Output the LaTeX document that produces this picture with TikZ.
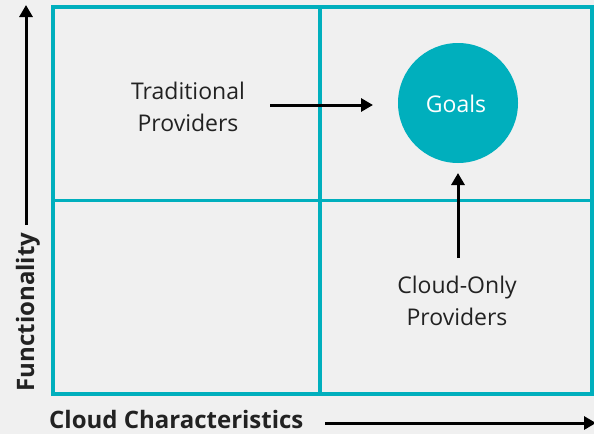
\documentclass[tikz,border=0pt]{standalone}
\usepackage{fontspec}
\setmainfont{Open Sans}
\usetikzlibrary{arrows.meta}
\definecolor{teal1}{HTML}{00AFBD}
\definecolor{bgc}{HTML}{F0F0F0}
\definecolor{txt}{HTML}{222222}
\tikzset{
  grid/.style={draw=teal1,line width=3.2pt},
  arr/.style={draw=black,line width=3pt,-{Triangle[length=12pt,width=13pt]}},
  lbl/.style={align=center,text=txt,font=\fontsize{23}{31.5}\selectfont,inner sep=0pt},
  axis/.style={text=txt,font=\bfseries\fontsize{24}{28}\selectfont,inner sep=0pt},
}
\begin{document}
\begin{tikzpicture}[x=1pt,y=-1pt]
\fill[bgc] (0,0) rectangle (594,434);
\useasboundingbox (0,0) rectangle (594,434);
\draw[grid] (53,7) rectangle (592,394);
\draw[grid] (320,7) -- (320,394);
\draw[grid] (53,200.5) -- (592,200.5);
\node[circle,fill=teal1,minimum size=120pt,inner sep=0pt] (goals) at (458,103) {};
\node[lbl,text=white] (goalst) at (456,104) {Goals};
\node[lbl] (trad) at (188,107) {Traditional\\Providers};
\node[lbl] (cloud) at (457,301) {Cloud-Only\\Providers};
\coordinate (ta) at (270,105);
\coordinate (tb) at (373,105);
\draw[arr] (ta) -- (tb);
\coordinate (ca) at (458,258);
\coordinate (cb) at (458,173);
\draw[arr] (ca) -- (cb);
\node[axis,rotate=90] (func) at (28,312) {Functionality};
\coordinate (fa) at (26,225);
\coordinate (fb) at (26,5);
\draw[arr] (fa) -- (fb);
\node[axis,anchor=base west] (cc) at (49,428) {Cloud Characteristics};
\coordinate (xa) at (325,423);
\coordinate (xb) at (596,423);
\draw[arr] (xa) -- (xb);
\end{tikzpicture}
\end{document}
